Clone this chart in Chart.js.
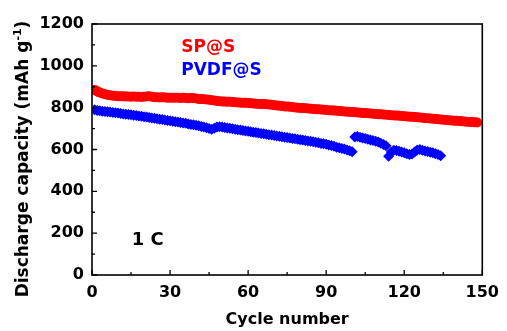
<!DOCTYPE html>
<html>
<head>
<meta charset="utf-8">
<script src="https://cdn.jsdelivr.net/npm/chart.js@4/dist/chart.umd.min.js"></script>
<style>
  html, body { margin: 0; padding: 0; background: #fff; }
  #wrap { width: 507px; height: 331px; }
</style>
</head>
<body>
<div id="wrap"><canvas id="capChart"></canvas></div>
<script>
// discharge capacity (mAh g-1) per cycle, starting at cycle 1
const spCapacity = [
  885, 878, 872, 868, 864, 861, 859, 857, 856, 855,
  854, 854, 853, 853, 852, 853, 852, 852, 851, 852,
  853, 855, 852, 850, 850, 849, 850, 849, 848, 848,
  848, 847, 847, 846, 847, 846, 845, 846, 845, 844,
  842, 841, 840, 839, 838, 836, 834, 832, 831, 830,
  829, 828, 828, 827, 826, 825, 824, 823, 823, 822,
  821, 820, 819, 818, 818, 817, 816, 815, 814, 812,
  810, 809, 808, 806, 805, 804, 803, 801, 800, 799,
  798, 797, 796, 795, 794, 793, 792, 791, 790, 789,
  788, 787, 786, 785, 784, 783, 782, 781, 780, 779,
  778, 777, 776, 775, 774, 773, 772, 771, 770, 769,
  768, 767, 766, 765, 764, 763, 762, 761, 760, 759,
  758, 757, 756, 755, 754, 753, 752, 750, 749, 748,
  747, 746, 745, 744, 742, 741, 740, 739, 738, 737,
  736, 735, 734, 733, 732, 731, 730, 729
];
const pvdfCapacity = [
  790, 787, 785, 783, 782, 780, 779, 777, 776, 774,
  772, 770, 769, 767, 766, 764, 762, 760, 759, 757,
  755, 753, 751, 749, 747, 745, 743, 741, 739, 737,
  735, 733, 731, 729, 727, 725, 722, 720, 718, 716,
  713, 710, 707, 704, 700, 697, 702, 708, 709, 707,
  705, 703, 701, 699, 697, 695, 693, 691, 689, 687,
  685, 683, 681, 679, 677, 675, 673, 671, 669, 667,
  665, 663, 661, 659, 657, 655, 653, 651, 649, 647,
  645, 643, 641, 639, 637, 635, 632, 629, 627, 625,
  622, 619, 615, 611, 608, 605, 602, 598, 594, 589,
  660, 662, 658, 655, 652, 649, 646, 643, 640, 636,
  630, 624, 618, 568, 588, 596, 595, 592, 588, 584,
  580, 576, 578, 588, 598, 600, 597, 593, 590, 587,
  584, 580, 576, 570
];
const xTicks = [0, 30, 60, 90, 120, 150];
const yTicks = [0, 200, 400, 600, 800, 1000, 1200];
const seriesNames = ['SP@S', 'PVDF@S'];

const FONT = '"DejaVu Sans", "Liberation Sans", Arial, sans-serif';

function toPoints(values) {
  return values.map((v, i) => ({ x: i + 1, y: v }));
}

const framePlugin = {
  id: 'frame',
  afterDraw(chart) {
    const { ctx, chartArea: a, scales: { x, y } } = chart;
    ctx.save();
    ctx.strokeStyle = '#000';
    ctx.lineWidth = 1.6;
    ctx.strokeRect(a.left, a.top, a.right - a.left, a.bottom - a.top);

    // inward ticks on left and bottom axes
    ctx.lineWidth = 1.3;
    ctx.beginPath();
    for (let v = 0; v <= 1200; v += 100) {
      const py = y.getPixelForValue(v);
      const len = v % 200 === 0 ? 5 : 3;
      ctx.moveTo(a.left, py);
      ctx.lineTo(a.left + len, py);
    }
    for (let v = 0; v <= 150; v += 15) {
      const px = x.getPixelForValue(v);
      const len = v % 30 === 0 ? 5 : 3;
      ctx.moveTo(px, a.bottom);
      ctx.lineTo(px, a.bottom - len);
    }
    ctx.stroke();

    // legend-style labels
    ctx.font = 'bold 17px ' + FONT;
    ctx.textBaseline = 'alphabetic';
    ctx.textAlign = 'left';
    ctx.fillStyle = '#ff0000';
    ctx.fillText(seriesNames[0], x.getPixelForValue(34.3), y.getPixelForValue(1068));
    ctx.fillStyle = '#0000ff';
    ctx.fillText(seriesNames[1], x.getPixelForValue(34.3), y.getPixelForValue(957));
    ctx.fillStyle = '#000';
    ctx.font = 'bold 18px ' + FONT;
    ctx.fillText('1 C', x.getPixelForValue(15.3), y.getPixelForValue(145));

    // y axis title with superscript
    ctx.translate(28, 159);
    ctx.rotate(-Math.PI / 2);
    ctx.font = 'bold 17px ' + FONT;
    const main = 'Discharge capacity (mAh g';
    const sup = '-1';
    const close = ')';
    const wMain = ctx.measureText(main).width;
    ctx.font = 'bold 11px ' + FONT;
    const wSup = ctx.measureText(sup).width;
    ctx.font = 'bold 17px ' + FONT;
    const wClose = ctx.measureText(close).width;
    let sx = -(wMain + wSup + wClose) / 2;
    ctx.fillText(main, sx, 0);
    sx += wMain;
    ctx.font = 'bold 11px ' + FONT;
    ctx.fillText(sup, sx, -7);
    sx += wSup;
    ctx.font = 'bold 17px ' + FONT;
    ctx.fillText(close, sx, 0);
    ctx.restore();
  }
};

new Chart(document.getElementById('capChart'), {
  type: 'scatter',
  data: {
    datasets: [
      {
        label: seriesNames[0],
        data: toPoints(spCapacity),
        backgroundColor: '#ff0000',
        borderColor: '#ff0000',
        pointStyle: 'circle',
        pointRadius: 5,
        borderWidth: 0
      },
      {
        label: seriesNames[1],
        data: toPoints(pvdfCapacity),
        backgroundColor: '#0000ff',
        borderColor: '#0000ff',
        pointStyle: 'rectRot',
        pointRadius: 5.5,
        borderWidth: 0
      }
    ]
  },
  options: {
    responsive: true,
    maintainAspectRatio: false,
    animation: false,
    layout: { padding: { left: 0, top: 24, right: 17, bottom: 0 } },
    plugins: {
      legend: { display: false },
      tooltip: { enabled: false }
    },
    scales: {
      x: {
        type: 'linear',
        min: 0,
        max: 150,
        afterBuildTicks: (s) => { s.ticks = xTicks.map(v => ({ value: v })); },
        afterFit: (s) => { s.height = 56; },
        grid: { display: false, drawTicks: false },
        border: { display: false },
        ticks: {
          color: '#000',
          padding: 8,
          maxRotation: 0,
          callback: (v) => String(v),
          font: { family: FONT, size: 16, weight: 'bold' }
        },
        title: {
          display: true,
          text: 'Cycle number',
          color: '#000',
          padding: { top: 0, bottom: 2 },
          font: { family: FONT, size: 16, weight: 'bold' }
        }
      },
      y: {
        min: 0,
        max: 1200,
        afterBuildTicks: (s) => { s.ticks = yTicks.map(v => ({ value: v })); },
        afterFit: (s) => { s.width = 92; },
        grid: { display: false, drawTicks: false },
        border: { display: false },
        ticks: {
          color: '#000',
          padding: 8,
          callback: (v) => String(v),
          font: { family: FONT, size: 16, weight: 'bold' }
        }
      }
    }
  },
  plugins: [framePlugin]
});
</script>
</body>
</html>
